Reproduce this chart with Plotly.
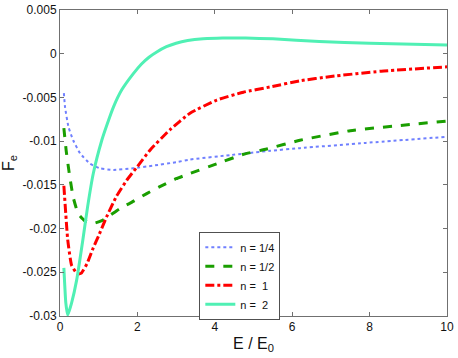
import plotly.graph_objects as go

# n = 1/4
e_quarter = [0.1, 0.13, 0.22, 0.34, 0.52, 0.78, 1.03, 1.38, 1.89, 2.41, 3.01, 3.36, 4.39, 5.43, 6.2, 7.9, 10]
f_quarter = [-0.0045, -0.0061, -0.0084, -0.0099, -0.0114, -0.0126, -0.0131, -0.0133, -0.0131, -0.0128,
             -0.0124, -0.0121, -0.0116, -0.0111, -0.0108, -0.0102, -0.0095]

# n = 1/2
e_half = [0.1, 0.16, 0.24, 0.34, 0.47, 0.64, 0.86, 1.08, 1.29, 1.55, 1.85, 2.24, 2.58, 3.0, 3.36,
          4.05, 4.74, 5.34, 6.2, 7.5, 8.8, 10]
f_half = [-0.0085, -0.0111, -0.0137, -0.0164, -0.0183, -0.0191, -0.0194, -0.0191, -0.0185, -0.0177,
          -0.0170, -0.0160, -0.0152, -0.0143, -0.0137, -0.0126, -0.0115, -0.0109, -0.0099, -0.0088,
          -0.0082, -0.0077]

# n = 1
e_one = [0.1, 0.2, 0.3, 0.45, 0.55, 0.7, 0.86, 1.0, 1.2, 1.46, 1.72, 2.0, 2.33, 2.84, 3.36, 4.05,
         4.74, 5.43, 6.2, 7.0, 8.3, 10]
f_one = [-0.0151, -0.0213, -0.0242, -0.0252, -0.0251, -0.0240, -0.0222, -0.0208, -0.0187, -0.0163,
         -0.0145, -0.0129, -0.0110, -0.0087, -0.0068, -0.0053, -0.0044, -0.0038, -0.0031, -0.0026,
         -0.0020, -0.0015]

# n = 2
e_two = [0.1, 0.15, 0.2, 0.3, 0.43, 0.59, 0.71, 0.86, 1.08, 1.2, 1.38, 1.6, 1.89, 2.1, 2.3, 2.5,
         2.75, 3.0, 3.3, 3.7, 4.2, 4.8, 5.5, 6.7, 8.0, 10]
f_two = [-0.0245, -0.0285, -0.0299, -0.0285, -0.0259, -0.0213, -0.0176, -0.0137, -0.0099, -0.0083,
         -0.0061, -0.0041, -0.0023, -0.0012, -0.0004, 0.0002, 0.0008, 0.0012, 0.0015, 0.0017,
         0.0018, 0.0018, 0.0017, 0.0014, 0.0012, 0.0010]

x_ticks = [0, 2, 4, 6, 8, 10]
y_ticks = [0.005, 0, -0.005, -0.01, -0.015, -0.02, -0.025, -0.03]
y_tick_text = ["0.005", "0", "-0.005", "-0.01", "-0.015", "-0.02", "-0.025", "-0.03"]

fig = go.Figure()
fig.add_trace(go.Scatter(x=e_quarter, y=f_quarter, mode="lines", name="n = 1/4",
                         line=dict(color="#7080ff", width=2, dash="dot", shape="spline", smoothing=0.4)))
fig.add_trace(go.Scatter(x=e_half, y=f_half, mode="lines", name="n = 1/2",
                         line=dict(color="#1a9e00", width=3, dash="dash", shape="spline", smoothing=0.4)))
fig.add_trace(go.Scatter(x=e_one, y=f_one, mode="lines", name="n =\u00a0\u00a01",
                         line=dict(color="#ff0000", width=3, dash="dashdot", shape="spline", smoothing=0.4)))
fig.add_trace(go.Scatter(x=e_two, y=f_two, mode="lines", name="n =\u00a0\u00a02",
                         line=dict(color="#50f0b4", width=3, shape="spline", smoothing=0.4)))

axis_style = dict(
    showline=True, linecolor="#707070", linewidth=1, mirror="ticks",
    ticks="inside", ticklen=4, tickcolor="#707070",
    showgrid=False, zeroline=False, automargin=False,
    tickfont=dict(family="Liberation Sans, Arial", size=12, color="#111"),
)

fig.update_xaxes(range=[0, 10], tickvals=x_ticks, ticktext=[str(v) for v in x_ticks],
                 title=dict(text="E / E<sub>0</sub>", font=dict(size=16, color="#111"), standoff=4),
                 **axis_style)
fig.update_yaxes(range=[-0.03, 0.005], tickvals=y_ticks, ticktext=y_tick_text,
                 title=dict(text="F<sub>e</sub>", font=dict(size=16, color="#111"), standoff=4),
                 **axis_style)

fig.update_layout(
    width=458, height=358,
    margin=dict(l=60, r=11, t=10, b=42),
    paper_bgcolor="white", plot_bgcolor="white",
    font=dict(family="Liberation Sans, Arial"),
    legend=dict(x=0.36, y=0.275, xanchor="left", yanchor="top",
                bordercolor="#505050", borderwidth=1, bgcolor="white",
                font=dict(size=11, color="#111"), tracegroupgap=0, itemwidth=30),
)

# drop the browser's default body margin so the 458x358 figure fills the window
fig.write_html("out.html", config={"displayModeBar": False},
               post_script="document.body.style.margin='0';")
